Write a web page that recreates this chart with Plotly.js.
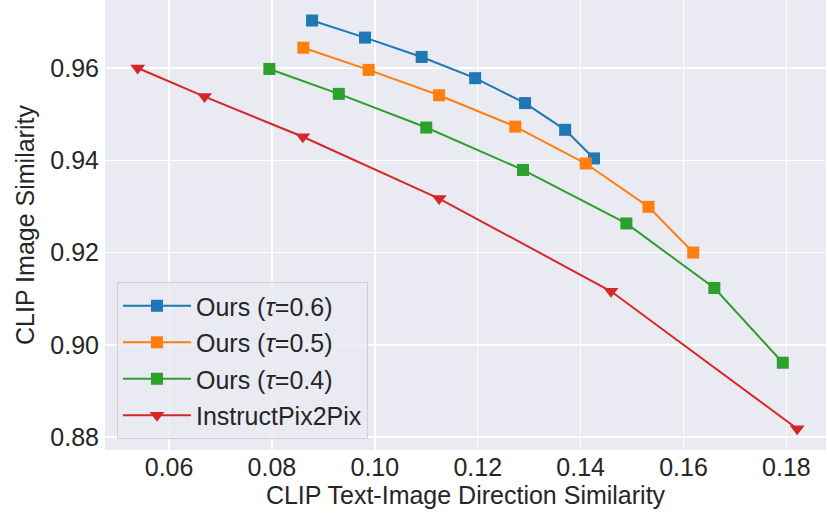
<!DOCTYPE html>
<html>
<head>
<meta charset="utf-8">
<script src="https://cdn.plot.ly/plotly-3.0.1.min.js"></script>
<style>html,body{margin:0;padding:0;background:#fff;}#chart{width:827px;height:518px;}</style>
</head>
<body>
<div id="chart"></div>
<script>
// Data
var seriesNames = ["Ours (<i>\u03c4</i>=0.6)", "Ours (<i>\u03c4</i>=0.5)", "Ours (<i>\u03c4</i>=0.4)", "InstructPix2Pix"];

var tau06_x = [0.0878, 0.0981, 0.1091, 0.1195, 0.1292, 0.1370, 0.1426];
var tau06_y = [0.9703, 0.9666, 0.9624, 0.9578, 0.9524, 0.9466, 0.9404];

var tau05_x = [0.0861, 0.0988, 0.1125, 0.1273, 0.1410, 0.1532, 0.1619];
var tau05_y = [0.9644, 0.9596, 0.9541, 0.9473, 0.9393, 0.9299, 0.9200];

var tau04_x = [0.0795, 0.0930, 0.1100, 0.1288, 0.1489, 0.1660, 0.1793];
var tau04_y = [0.9598, 0.9544, 0.9471, 0.9379, 0.9263, 0.9123, 0.8961];

var ip2p_x = [0.0539, 0.0669, 0.0860, 0.1125, 0.1459, 0.1821];
var ip2p_y = [0.9600, 0.9538, 0.9451, 0.9317, 0.9116, 0.8818];

var xTicks = [0.06, 0.08, 0.10, 0.12, 0.14, 0.16, 0.18];
var xTickText = ["0.06", "0.08", "0.10", "0.12", "0.14", "0.16", "0.18"];
var yTicks = [0.88, 0.90, 0.92, 0.94, 0.96];
var yTickText = ["0.88", "0.90", "0.92", "0.94", "0.96"];

var colors = ["#1f77b4", "#ff7f0e", "#2ca02c", "#d62728"];
var symbols = ["square", "square", "square", "triangle-down"];
var xs = [tau06_x, tau05_x, tau04_x, ip2p_x];
var ys = [tau06_y, tau05_y, tau04_y, ip2p_y];

var traces = [];
for (var i = 0; i < 4; i++) {
  traces.push({
    x: xs[i], y: ys[i], name: seriesNames[i],
    type: "scatter", mode: "lines+markers",
    legendgroup: "g" + i,
    line: {color: colors[i], width: 2},
    marker: {color: colors[i], symbol: symbols[i], size: i === 3 ? 13 : 12, line: {width: 0}}
  });
}

var font = "Liberation Sans, Arial, sans-serif";
var fs = 25;
var layout = {
  width: 827, height: 518,
  margin: {l: 105, r: 1, t: 0, b: 68},
  paper_bgcolor: "#ffffff",
  plot_bgcolor: "#EAEAF2",
  font: {family: font, size: fs, color: "#262626"},
  showlegend: true,
  xaxis: {
    range: [0.04755, 0.1877],
    tickvals: xTicks, ticktext: xTickText,
    showgrid: true, gridcolor: "#ffffff", gridwidth: 1.5,
    zeroline: false, showline: false, ticks: "",
    tickfont: {size: fs, family: font, color: "#262626"},
    title: {text: "CLIP Text-Image Direction Similarity", font: {size: fs, family: font, color: "#262626"}, standoff: 6}
  },
  yaxis: {
    range: [0.87718, 0.97475],
    tickvals: yTicks, ticktext: yTickText,
    showgrid: true, gridcolor: "#ffffff", gridwidth: 1.5,
    zeroline: false, showline: false, ticks: "",
    ticklabelstandoff: 5,
    tickfont: {size: fs, family: font, color: "#262626"},
    title: {text: "CLIP Image Similarity", font: {size: fs, family: font, color: "#262626"}, standoff: 8}
  },
  legend: {
    x: 0.0166, y: 0.3733, xanchor: "left", yanchor: "top",
    bgcolor: "rgba(234,234,242,0.8)", bordercolor: "#d0d0d8", borderwidth: 1,
    font: {size: fs, family: font, color: "#262626"},
    traceorder: "grouped", tracegroupgap: 1,
    itemwidth: 68
  }
};

Plotly.newPlot("chart", traces, layout, {displayModeBar: false, staticPlot: true});
</script>
</body>
</html>
